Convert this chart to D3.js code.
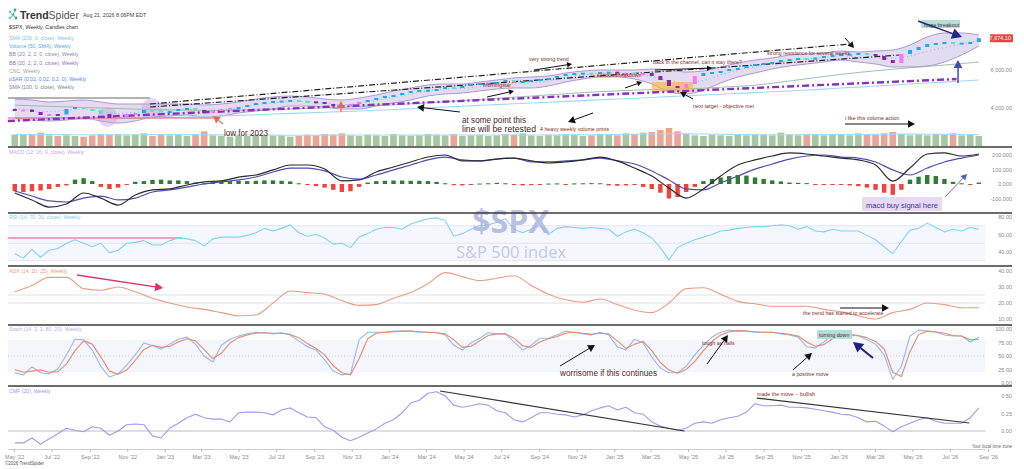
<!DOCTYPE html>
<html><head><meta charset="utf-8">
<script src="https://cdn.jsdelivr.net/npm/d3@7"></script>
<style>
html,body{margin:0;padding:0;background:#fff;}
svg{display:block;font-family:"Liberation Sans",Arial,sans-serif;}
</style></head><body>
<svg id="c" width="1024" height="469"></svg>
<script>
// ---------------- DATA ----------------
const startDate = "2022-05-02";           // first bi-weekly sample
// bi-weekly samples (113)
const closes = [3895,3920,3790,3632,3685,3660,3947,4053,3947,3895,
3685,3474,3526,3685,3737,3895,3870,3842,3842,3947,
4000,3895,3737,3842,3947,4000,4053,4158,4263,4316,
4368,4390,4421,4368,4350,4316,4210,4158,4105,4210,
4316,4421,4526,4632,4684,4789,4895,4947,4960,5000,
5105,5090,5158,5263,5316,5330,5368,5474,5368,5421,
5474,5526,5579,5684,5789,5842,5860,5820,5895,5910,
5842,5860,5830,5842,5684,5474,5158,5053,5263,5684,
5842,5895,5947,6053,6105,6210,6316,6368,6421,6526,
6579,6632,6610,6650,6737,6789,6842,6860,6895,6842,
6737,6526,6368,6842,7053,7210,7368,7421,7474,7410,
7440,7474,7674.1];
const volumes = [17,18,17,20,16,15,16,15,14,16,
18,17,18,16,17,19,15,17,16,17,
15,18,22,16,15,14,16,15,17,16,
15,16,14,15,17,16,18,17,19,16,
15,17,16,15,18,16,15,16,18,17,
16,18,15,16,17,15,16,18,17,19,
16,15,17,16,18,17,15,16,18,17,
16,19,18,20,21,24,27,22,18,16,
15,17,16,15,17,16,18,17,16,20,
17,16,18,17,16,17,18,16,19,18,
17,19,21,18,16,17,16,18,17,19,
16,17,15];
const macdHist = [-50,-55,-50,-45,-35,-20,-10,30,40,20,
-20,-35,-25,-5,15,20,28,30,25,25,
20,10,5,15,18,20,22,20,22,25,
25,22,18,5,-5,-15,-25,-40,-55,-50,
-20,10,20,22,24,24,22,22,20,15,
5,-8,-10,-5,3,5,8,5,-5,-10,
-8,-4,3,4,-3,4,5,6,5,-10,
-12,-10,-5,-20,-35,-60,-100,-90,-55,-20,
20,35,45,55,62,58,45,35,25,18,
10,8,6,-4,-6,-5,-6,-10,-15,-25,
-40,-60,-75,-40,30,50,62,55,35,15,
5,-5,10];
const rsi = [38,33,43,34,42,44,50,54,50,46,
50,39,42,50,51,53,48,48,53,56,
55,53,47,55,57,57,57,59,62,67,
64,67,71,62,58,60,56,49,50,45,
57,61,66,68,68,66,72,75,78,79,
76,58,61,66,70,71,74,78,66,62,
66,70,60,67,69,68,67,68,67,66,
58,63,66,62,56,45,31,45,50,54,
57,60,64,65,67,68,69,69,70,71,
70,66,69,64,63,66,64,64,64,59,
54,46,38,52,65,67,73,68,63,66,
64,68,66];
const stochK = [19,15,30,19,17,26,52,81,80,61,
31,11,17,33,52,74,69,63,72,81,
85,72,50,39,70,81,87,91,94,93,
91,93,89,78,67,61,43,22,15,17,
80,94,94,94,96,96,96,94,94,93,
89,70,61,74,83,93,91,91,76,61,
70,83,83,89,96,94,91,89,94,89,
67,61,81,74,48,28,19,19,31,52,
70,85,94,98,96,96,94,94,94,91,
89,85,67,65,76,89,91,89,87,80,
72,52,7,31,87,98,96,94,89,87,
87,76,85];
const stochD = [25,20,22,24,20,21,35,60,78,72,
48,22,16,24,42,62,70,66,68,76,
82,78,62,45,55,74,84,89,92,93,
92,92,90,84,73,64,52,32,19,15,
45,82,92,94,95,96,96,95,94,93,
91,80,66,68,78,88,91,91,83,69,
66,76,82,86,92,94,92,90,92,91,
78,64,72,77,60,38,24,18,25,40,
60,77,89,95,97,96,95,94,94,92,
90,87,76,68,71,82,89,90,88,84,
77,63,20,12,58,90,96,95,92,88,
87,80,81];
const cmf = [-0.17,-0.17,-0.10,-0.19,-0.11,-0.04,0.04,0.01,-0.01,0.06,
0.04,-0.06,0.00,0.09,0.10,0.09,-0.07,-0.10,0.04,0.11,
0.19,0.24,0.19,0.17,0.17,0.13,0.26,0.27,0.27,0.26,
0.23,0.30,0.33,0.26,0.20,0.19,0.06,0.01,-0.09,-0.14,
-0.09,-0.03,0.03,0.11,0.16,0.26,0.40,0.44,0.54,0.56,
0.50,0.37,0.34,0.36,0.39,0.37,0.29,0.26,0.16,0.13,
0.19,0.26,0.26,0.24,0.23,0.20,0.23,0.29,0.33,0.36,
0.30,0.34,0.26,0.24,0.13,0.07,0.04,0.01,0.04,0.11,
0.13,0.11,0.16,0.19,0.21,0.27,0.39,0.36,0.36,0.37,
0.34,0.34,0.33,0.31,0.29,0.27,0.24,0.23,0.19,0.13,
0.14,0.07,-0.01,0.06,0.11,0.16,0.19,0.14,0.11,0.11,
0.11,0.19,0.33];
// four-weekly samples (57)
const macdLine = [-62,-110,-159,-138,-62,-97,-145,-76,-41,-34,
-7,14,21,48,62,97,131,131,103,21,
28,83,117,152,186,200,159,159,172,179,
159,145,152,166,186,159,110,55,-28,-97,
-34,55,131,166,193,214,207,193,179,166,
131,20,110,207,214,193,207];
const macdSignal = [-48,-83,-117,-124,-97,-83,-110,-97,-55,-41,
-21,0,14,28,48,83,110,110,90,48,
34,62,97,131,166,186,166,159,172,179,
152,152,159,166,179,159,138,90,28,-34,
-41,7,55,103,138,172,193,200,186,179,
152,97,62,110,152,179,200];
const adx = [27,31,36,36,29,28,30,27,23,20,
17.5,16,14,12,12.5,20,27.5,26.5,25.5,21.5,
18.5,19,23,26.5,32,39,36.5,34,35.5,37,
31,25.5,22,20.5,22.5,19,15.5,14,20,29,
29.5,25.5,21,19.5,18,18,18,16,14.5,12,
10,14,16,20,19,17,17];
const bbUpper = [4474,4421,4316,4368,4421,4316,4211,4211,4211,4211,
4211,4158,4211,4316,4474,4579,4632,4579,4474,4421,
4526,4684,4895,5053,5211,5263,5263,5368,5474,5579,
5632,5684,5842,5947,6000,6000,6000,6053,6000,5895,
5947,6158,6368,6526,6632,6789,6842,6895,7000,6947,
7000,7053,7316,7737,7947,7947,7842];
const bbLower = [3474,3368,3316,3368,3474,3316,3211,3316,3526,3579,
3632,3526,3579,3737,3842,3947,4105,4105,4053,3947,
3947,4105,4263,4421,4632,4737,4789,4895,5000,5053,
5053,5158,5368,5526,5632,5632,5526,5263,4842,4737,
4947,5316,5632,5842,6053,6211,6316,6421,6526,6421,
6316,6158,6158,6211,6421,6789,7263];
const sma200 = [3370,3378,3390,3398,3410,3422,3438,3458,3480,3502,
3525,3552,3580,3612,3648,3684,3716,3746,3778,3810,
3842,3880,3922,3964,4010,4054,4094,4136,4180,4222,
4264,4306,4350,4390,4432,4474,4515,4556,4598,4640,
4684,4726,4768,4810,4852,4895,4944,4996,5050,5100,
5158,5210,5262,5312,5364,5420,5474];
const sma100 = [4150,4120,4090,4060,4030,4000,3970,3940,3920,3900,
3890,3880,3880,3890,3900,3920,3950,3980,4010,4040,
4080,4120,4170,4220,4270,4330,4390,4450,4510,4570,
4630,4690,4750,4810,4860,4900,4940,4970,4990,5010,
5040,5090,5140,5200,5300,5420,5540,5660,5770,5870,
5960,6040,6120,6190,6260,6340,6420];
const volSma = [17.2,17.3,17.1,17.0,16.9,16.8,16.8,16.9,17.0,17.1,
17.0,16.9,16.7,16.5,16.4,16.3,16.2,16.2,16.3,16.4,
16.5,16.5,16.4,16.3,16.3,16.4,16.5,16.5,16.4,16.4,
16.5,16.6,16.7,16.8,16.9,17.2,17.6,18.0,18.3,18.2,
18.0,17.6,17.2,17.0,16.9,16.9,17.0,17.1,17.2,17.3,
17.5,17.7,17.8,17.7,17.5,17.3,17.2];
// drawn trend lines: [bi-weekly index, value]
const channelUpper = [[15.7,4211],[97.0,7368]];
const channelLower = [[15.7,4053],[102.8,6789]];
const purpleSupport = [[-0.8,3316],[109.4,5526]];
const low2023Line = [[-0.8,3474],[23.3,3474]];
const topLeftLine = [[-0.8,4526],[15.7,4526]];
const rsiLevelLine = [[-0.8,56],[19.5,56]];
const cmfLineA = [[49.4,0.571],[77.8,0.0]];
const cmfLineB = [[86.2,0.471],[110.9,0.114]];
const targetBox = [[74.0,5368],[78.8,4842]];
const circleMarks = [[10.8,3526],[15.9,4000]];
// ticks / labels
const xTicks = ["2022-05-01","2022-07-01","2022-09-01","2022-11-01","2023-01-01","2023-03-01","2023-05-01","2023-07-01","2023-09-01","2023-11-01","2024-01-01","2024-03-01","2024-05-01","2024-07-01","2024-09-01","2024-11-01","2025-01-01","2025-03-01","2025-05-01","2025-07-01","2025-09-01","2025-11-01","2026-01-01","2026-03-01","2026-05-01","2026-07-01","2026-09-01"];
const priceTicks = [6000,4000];
const macdTicks = [200,100,0,-100];
const rsiTicks = [80,60,40];
const adxTicks = [40,30,20,10];
const stochTicks = [100,75,50,25,0];
const cmfTicks = [0.5,0.25,0];
const legendItems = ["SMA (200, 0, close), Weekly","Volume (50, SMA), Weekly","BB (20, 2, 2, 0, close), Weekly","BB (20, 2, 2, 0, close), Weekly","CNC, Weekly","pSAR (0.02, 0.02, 0.2, 0), Weekly","SMA (100, 0, close), Weekly"];
const panelTitles = ["MACD (12, 26, 9, close), Weekly","RSI (14, 70, 30, close), Weekly","ADX (14, 20, 25), Weekly","Stoch (14, 3, 3, 80, 20), Weekly","CMF (20), Weekly"];

// ---------------- SETUP ----------------
const svg = d3.select("#c");
const parse = d3.utcParse("%Y-%m-%d");
const DAY = 864e5;
const t0 = parse(startDate);
const idx = i => new Date(+t0 + i*14*DAY);
const bw = closes.map((_,i)=>idx(i));
const fw = macdLine.map((_,k)=>idx(2*k));
const x = d3.scaleUtc().domain([parse("2022-04-21"), parse("2026-08-27")]).range([8,985]);
const X0 = 8, X1 = 985;

const yP = d3.scaleLinear().domain([4000,6000]).range([108,70]);
const yV = d3.scaleLinear().domain([0,30]).range([146,126]);
const yM = d3.scaleLinear().domain([0,200]).range([184,155]);
const yR = d3.scaleLinear().domain([40,80]).range([252,217]);
const yA = d3.scaleLinear().domain([10,40]).range([319,271]);
const yS = d3.scaleLinear().domain([0,100]).range([383,329]);
const yC = d3.scaleLinear().domain([0,0.5]).range([431,396]);

function path(g, dates, vals, ys, stroke, w, curve, dash){
  const p = g.append("path").datum(vals.map((v,i)=>[dates[i],v]))
    .attr("d", d3.line().x(d=>x(d[0])).y(d=>ys(d[1])).curve(curve||d3.curveLinear))
    .attr("fill","none").attr("stroke",stroke).attr("stroke-width",w).attr("stroke-linejoin","round");
  if(dash) p.attr("stroke-dasharray",dash);
  return p;
}
function tline(g, pts, ys, stroke, w, dash){
  const p = g.append("line").attr("x1",x(idx(pts[0][0]))).attr("y1",ys(pts[0][1]))
    .attr("x2",x(idx(pts[1][0]))).attr("y2",ys(pts[1][1]))
    .attr("stroke",stroke).attr("stroke-width",w);
  if(dash) p.attr("stroke-dasharray",dash);
}
function hband(g, ys, a, b, fill){
  g.append("rect").attr("x",X0).attr("width",X1-X0).attr("y",ys(a)).attr("height",ys(b)-ys(a)).attr("fill",fill);
}
function hline(g, ys, v, stroke, w, dash){
  const l = g.append("line").attr("x1",X0).attr("x2",X1).attr("y1",ys(v)).attr("y2",ys(v)).attr("stroke",stroke).attr("stroke-width",w);
  if(dash) l.attr("stroke-dasharray",dash);
}
function arrow(x1,y1,x2,y2,color,w,head){
  const g = svg.append("g");
  const a = Math.atan2(y2-y1,x2-x1);
  const hx = x2-head*Math.cos(a), hy = y2-head*Math.sin(a);
  g.append("line").attr("x1",x1).attr("y1",y1).attr("x2",hx).attr("y2",hy).attr("stroke",color).attr("stroke-width",w);
  const s = head*0.55;
  g.append("polygon").attr("points",[[x2,y2],[hx+s*Math.sin(a),hy-s*Math.cos(a)],[hx-s*Math.sin(a),hy+s*Math.cos(a)]].map(d=>d.join(",")).join(" ")).attr("fill",color);
}
function txt(xx,yy,s,size,color,opts){
  const t = svg.append("text").attr("x",xx).attr("y",yy).attr("font-size",size).attr("fill",color).text(s);
  if(opts&&opts.len) t.attr("textLength",opts.len).attr("lengthAdjust","spacingAndGlyphs");
  if(opts&&opts.anchor) t.attr("text-anchor",opts.anchor);
  if(opts&&opts.weight) t.attr("font-weight",opts.weight);
  return t;
}

// ---------------- HEADER ----------------
const logo = svg.append("g");
[[10,12,"#7fcdbb"],[15,10,"#26a69a"],[13,15,"#4db6ac"],[10,18,"#80cbc4"],[16,18,"#26a69a"]].forEach(p=>
  logo.append("circle").attr("cx",p[0]).attr("cy",p[1]).attr("r",1.4).attr("fill",p[2]));
logo.append("path").attr("d","M10,12 L13,15 L15,10 M13,15 L10,18 M13,15 L16,18").attr("stroke","#4db6ac").attr("stroke-width",0.8).attr("fill","none");
const lt = svg.append("text").attr("x",20).attr("y",18.5).attr("font-size",10.5).attr("fill","#333");
lt.append("tspan").attr("font-weight","bold").text("Trend");
lt.append("tspan").attr("fill","#555").text("Spider");
txt(83,17,"Aug 21, 2026 8:06PM EDT",5.3,"#444");
txt(9,29,"$SPX, Weekly, Candles chart",5.3,"#333");
const legendColors = ["#7cc8f2","#5aa7ea","#8c8cae","#9b6fc3","#a5a5a5","#4f8ef0","#6f8f80"];
legendItems.forEach((s,i)=> txt(9,40+i*8.2,s,5.2,legendColors[i]));

// ---------------- MAIN PANEL ----------------
const gm = svg.append("g");
gm.append("path").datum(bbUpper.map((u,k)=>[fw[k],u,bbLower[k]]))
  .attr("d", d3.area().x(d=>x(d[0])).y0(d=>yP(d[2])).y1(d=>yP(d[1])).curve(d3.curveMonotoneX))
  .attr("fill","#dcd3ec").attr("fill-opacity",0.8);
path(gm, fw, bbUpper, yP, "#a48dcf", 0.9, d3.curveMonotoneX);
path(gm, fw, bbLower, yP, "#a48dcf", 0.9, d3.curveMonotoneX);
path(gm, fw, bbUpper.map((u,k)=>(u+bbLower[k])/2), yP, "#6fc3ef", 1.1, d3.curveMonotoneX, "1,3");
path(gm, fw, sma200, yP, "#a3d8f4", 1.1, d3.curveMonotoneX);
path(gm, fw, sma100, yP, "#93b8a6", 0.9, d3.curveMonotoneX);
tline(gm, topLeftLine, yP, "#666", 1);
tline(gm, low2023Line, yP, "#e5586a", 1.1);
circleMarks.forEach(c=> gm.append("circle").attr("cx",x(idx(c[0]))).attr("cy",yP(c[1])).attr("r",10).attr("fill","#c7a3df").attr("fill-opacity",0.45));
gm.append("rect").attr("x",x(idx(targetBox[0][0]))).attr("y",yP(targetBox[0][1]))
  .attr("width",x(idx(targetBox[1][0]))-x(idx(targetBox[0][0]))).attr("height",yP(targetBox[1][1])-yP(targetBox[0][1]))
  .attr("fill","#f6b754").attr("fill-opacity",0.7);
tline(gm, channelUpper, yP, "#222", 1.2, "6,2,1,2");
tline(gm, channelLower, yP, "#222", 1.2, "6,2,1,2");
tline(gm, purpleSupport, yP, "#8a2fc0", 2.4, "7,3,2,3");
const cd = closes.map((c,i)=>({d:bw[i], o: i?closes[i-1]:3950, c, tr: i>=5 ? c>closes[i-5] : c>4100}));
gm.append("g").selectAll("rect").data(cd).join("rect")
  .attr("x",d=>x(d.d)-2).attr("width",4)
  .attr("y",d=>Math.min(yP(d.o),yP(d.c))).attr("height",d=>Math.max(2,Math.abs(yP(d.o)-yP(d.c))))
  .attr("fill",d=> d.tr ? (d.c>=d.o ? "#16adf3" : "#5fe3b8") : (d.c>=d.o ? "#ee7ef0" : "#8e24aa"));
gm.append("g").selectAll("rect").data(volumes.map((v,i)=>({d:bw[i],v,up: i? closes[i]>=closes[i-1] : true})))
  .join("rect").attr("x",d=>x(d.d)-3.3).attr("width",6.6).attr("y",d=>yV(d.v)).attr("height",d=>yV(0)-yV(d.v))
  .attr("fill",d=>d.up?"#a7c7a3":"#e9a596");
path(gm, fw, volSma, yV, "#a6d9f4", 1.1, d3.curveMonotoneX);

// ---------------- MACD ----------------
const gM = svg.append("g");
gM.append("g").selectAll("rect").data(macdHist.map((v,i)=>({d:bw[i],v}))).join("rect")
  .attr("x",d=>x(d.d)-2.2).attr("width",4.4)
  .attr("y",d=>Math.min(yM(0),yM(d.v))).attr("height",d=>Math.max(1,Math.abs(yM(d.v)-yM(0))))
  .attr("fill",d=>d.v>=0?"#2f7d34":"#f2423c");
path(gM, fw, macdSignal, yM, "#4b4fae", 1.2, d3.curveMonotoneX);
path(gM, fw, macdLine, yM, "#2b2b2b", 1.2, d3.curveMonotoneX);

// ---------------- RSI ----------------
const gR = svg.append("g");
hband(gR, yR, 70, 30, "#f4f7fd");
hline(gR, yR, 70, "#e1e7f5", 1); hline(gR, yR, 30, "#e1e7f5", 1); hline(gR, yR, 50, "#e3e3f1", 1);
svg.append("text").attr("x",511).attr("y",233).attr("text-anchor","middle").attr("font-size",32).attr("font-weight","bold")
  .attr("fill","#aeb4df").attr("fill-opacity",0.85).attr("font-family","'Open Sans','Liberation Sans',sans-serif").text("$SPX");
svg.append("text").attr("x",511).attr("y",258).attr("text-anchor","middle").attr("font-size",16.5)
  .attr("fill","#bcc1e6").attr("fill-opacity",0.9).attr("font-family","'Open Sans','Liberation Sans',sans-serif").text("S&P 500 index");
tline(gR, rsiLevelLine, yR, "#e0517a", 1.2);
path(gR, bw, rsi, yR, "#86d2f5", 1.1);

// ---------------- ADX ----------------
const gA = svg.append("g");
hline(gA, yA, 25, "#dedff0", 1); hline(gA, yA, 20, "#dedff0", 1);
path(gA, fw, adx, yA, "#ec9c84", 1.1, d3.curveMonotoneX);

// ---------------- STOCH ----------------
const gS = svg.append("g");
hband(gS, yS, 80, 20, "#f5f5fc");
hline(gS, yS, 50, "#c9c9e2", 1, "1,2");
path(gS, bw, stochK, yS, "#93b9f7", 1.1);
path(gS, bw, stochD, yS, "#e68b70", 1.1);

// ---------------- CMF ----------------
const gC = svg.append("g");
hline(gC, yC, 0, "#dedede", 2);
path(gC, bw, cmf, yC, "#9c9cf2", 1.1);
tline(gC, cmfLineA, yC, "#333", 1.2);
tline(gC, cmfLineB, yC, "#333", 1.2);

// ---------------- SEPARATORS / TITLES ----------------
[147,213,266,325,386].forEach(yy=> svg.append("line").attr("x1",8).attr("x2",1012).attr("y1",yy).attr("y2",yy).attr("stroke","#3a3a3a").attr("stroke-width",1.6));
const titleColors = ["#c9a8ea","#7fcdf0","#ee9a85","#b9b0ec","#9a9af2"];
const titleY = [153.5,219,272.5,331,393];
panelTitles.forEach((s,i)=> txt(9,titleY[i],s,5.2,titleColors[i]));

// ---------------- AXES ----------------
function rightAxis(scale, ticks, fmt){
  const g = svg.append("g").attr("transform","translate(1012,0)")
    .call(d3.axisLeft(scale).tickValues(ticks).tickFormat(fmt).tickSize(0).tickPadding(0));
  g.select(".domain").remove();
  g.attr("font-size",5.5).attr("font-family","'Liberation Sans',Arial,sans-serif");
  g.selectAll("text").attr("fill","#8a8a8a");
}
const dashMinus = f => v => f(v).replace("\u2212","-");
rightAxis(yP, priceTicks, dashMinus(d3.format(",.2f")));
rightAxis(yM, macdTicks, dashMinus(d3.format(",.3f")));
rightAxis(yR, rsiTicks, d3.format(".2f"));
rightAxis(yA, adxTicks, d3.format(".2f"));
rightAxis(yS, stochTicks, d3.format(".2f"));
rightAxis(yC, cmfTicks, d3.format(".2f"));
const lastP = closes[closes.length-1];
svg.append("rect").attr("x",990).attr("y",yP(lastP)-4).attr("width",23).attr("height",8).attr("fill","#e84545").attr("rx",1);
svg.append("text").attr("x",1011).attr("y",yP(lastP)+2).attr("text-anchor","end").attr("font-size",5.5).attr("fill","#fff").text(d3.format(",.2f")(lastP));

const xa = svg.append("g").attr("transform","translate(0,449)")
  .call(d3.axisBottom(x).tickValues(xTicks.map(parse)).tickFormat(d3.utcFormat("%b '%y")).tickSize(3).tickSizeOuter(0).tickPadding(3));
xa.attr("font-size",5.5).attr("font-family","'Liberation Sans',Arial,sans-serif");
xa.select(".domain").attr("stroke","#cfcfcf");
xa.selectAll(".tick line").attr("stroke","#bbb");
xa.selectAll("text").attr("fill","#8a8a8a");
txt(1012,448,"Your local time zone",4.5,"#666",{anchor:"end"});
txt(5,465,"\u00a92026 TrendSpider",4.5,"#555");

// ---------------- ANNOTATIONS ----------------
const AC = "#7b2d26";
txt(529,61,"very strong trend",5.3,AC);
arrow(534,70,572,64,"#111",1,5);
txt(483,87,"morningstar",5.3,AC);
arrow(487,97,514,91,"#111",1,5);
txt(597,77,"serious breakdown",5.3,AC);
arrow(625,88,642,82,"#111",1,5);
txt(653,64,"back in the channel, can it stay there?",5.3,AC);
arrow(655,70,712,68,"#111",1,5);
txt(767,55,"strong resistance for several weeks",5.3,AC);
arrow(845,38,854,48,"#111",1,6);
txt(693,108,"next target - objective met",5.3,AC);
arrow(693,99,680,92,"#111",1,6);
txt(462,123,"at some point this",9,"#4a1c1c",{len:64});
txt(462,132,"line will be retested",9,"#4a1c1c",{len:74});
txt(540,131,"4 heavy weekly volume prints",5.3,AC);
arrow(460,112,417,107,"#111",1,7);
arrow(593,113,568,122,"#111",1,7);
arrow(223,124,213,116,"#f0665a",1.2,7);
arrow(341,112,341,101,"#f0665a",1.2,7);
txt(224,136,"low for 2023",8.5,"#5a1e1e",{len:44});
txt(845,120,"i like this volume action",5.3,AC);
arrow(845,124,915,124,"#111",1,7);
svg.append("rect").attr("x",921).attr("y",20).attr("width",39).attr("height",8).attr("fill","#b7ddd7");
txt(924,26.5,"huge breakout",5.5,"#333");
arrow(918,21,962,37,"#1f2a8a",1.5,10);
arrow(958,83,958,60,"#3f4fb0",1.5,8);
svg.append("rect").attr("x",862).attr("y",197).attr("width",80).attr("height",14).attr("fill","#e7d8f4");
txt(866,207.5,"macd buy signal here",8,"#3a3a9a",{len:72});
arrow(945,197,967,174,"#4f5fbf",0.9,6);
arrow(77,275,163,288,"#d6336c",1.3,8);
txt(803,315,"the trend has started to accelerate",5.3,AC);
arrow(840,308,889,308,"#111",1,7);
txt(560,376,"worrisome if this continues",8.5,"#5a1e1e",{len:97});
arrow(560,366,595,345,"#111",1,7);
txt(702,345,"tough as nails",5.3,AC);
arrow(707,364,728,335,"#111",1,7);
svg.append("rect").attr("x",817).attr("y",330).attr("width",35).attr("height",9).attr("fill","#b3dfd9");
txt(819,337,"turning down",5.3,"#333");
arrow(873,358,853,342,"#1a237e",2,10);
txt(792,376,"a positive move",5.3,AC);
arrow(793,370,812,353,"#111",1,7);
txt(757,396,"made the move -- bullish",5.3,AC);
</script>
</body></html>
